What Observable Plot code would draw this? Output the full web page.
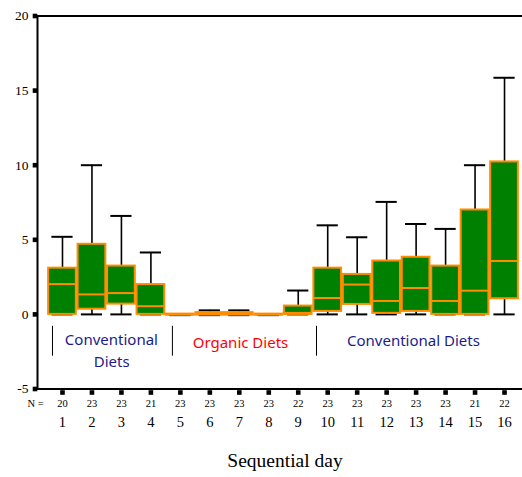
<!DOCTYPE html>
<html>
<head>
<meta charset="utf-8">
<script src="https://cdn.jsdelivr.net/npm/d3@7"></script>
<script src="https://cdn.jsdelivr.net/npm/@observablehq/plot@0.6"></script>
<style>
  html, body { margin: 0; padding: 0; background: #fff; }
  #chart { width: 522px; height: 477px; }
</style>
</head>
<body>
<div id="chart"></div>
<script>
// ---- Data ----
const days    = [1, 2, 3, 4, 5, 6, 7, 8, 9, 10, 11, 12, 13, 14, 15, 16];
const nCounts = [20, 23, 23, 21, 23, 23, 23, 23, 22, 23, 23, 23, 23, 23, 21, 22];
const lowWhisker  = [0, 0, 0, 0, -0.05, -0.05, -0.05, -0.05, 0, 0, 0, 0, 0, 0, 0, 0];
const q1          = [0, 0.35, 0.69, 0, -0.05, -0.05, -0.05, -0.05, 0, 0.2, 0.67, 0.07, 0.2, 0, 0, 1.05];
const median      = [2.03, 1.34, 1.43, 0.55, 0, 0.05, 0.05, 0, 0.1, 1.1, 2.0, 0.9, 1.77, 0.9, 1.59, 3.58];
const q3          = [3.1, 4.7, 3.24, 2.0, 0.02, 0.12, 0.12, 0.02, 0.56, 3.1, 2.68, 3.58, 3.83, 3.24, 7.0, 10.22];
const highWhisker = [5.2, 10.0, 6.6, 4.15, 0.02, 0.27, 0.27, 0.02, 1.6, 5.97, 5.17, 7.54, 6.06, 5.73, 10.0, 15.86];

const yTicks = [-5, 0, 5, 10, 15, 20];

// annotation texts
const annoTexts  = ["Conventional", "Diets", "Organic Diets", "Conventional Diets"];
const annoX      = [2.66, 2.67, 7.04, 12.91];
const annoY      = [-1.76, -3.2, -1.93, -1.8];
const annoColors = ["#1c1c88", "#1c1c88", "#ff0000", "#1c1c88"];
const sepX       = [0.66, 4.73, 9.62];

// ---- Build tables ----
const boxes = days.map((d, i) => ({
  day: d, n: nCounts[i], lo: lowWhisker[i], q1: q1[i], med: median[i], q3: q3[i], hi: highWhisker[i]
}));
const annos = annoTexts.map((t, i) => ({text: t, x: annoX[i], y: annoY[i], color: annoColors[i]}));

const xMin = 0.152, xMax = 16.61;
const halfBox = 0.47, halfCap = 0.36;
const GREEN = "#008000", ORANGE = "#ff8c00";
const serif = "'Liberation Serif', 'Times New Roman', serif";
const handFont = "'Noto Sans', sans-serif";

const chart = Plot.plot({
  width: 522,
  height: 477,
  marginLeft: 37,
  marginRight: 0,
  marginTop: 15.5,
  marginBottom: 88.5,
  x: {domain: [xMin, xMax], axis: null},
  y: {domain: [-5, 20], axis: null},
  style: {background: "#fff"},
  marks: [
    // frame lines: top, bottom, left
    Plot.ruleY([20, -5], {stroke: "#000", strokeWidth: 2}),
    Plot.ruleX([xMin], {y1: -5, y2: 20, stroke: "#000", strokeWidth: 2}),

    // y ticks (small squares) and labels
    Plot.dot(yTicks, {x: () => xMin, y: d => d, symbol: "square", r: 2.6, fill: "#000", dx: -2.5}),
    Plot.text(yTicks, {x: () => xMin, y: d => d, text: d => String(d), dx: -9, textAnchor: "end",
      fontFamily: serif, fontSize: 13.5, fill: "#000"}),

    // x ticks (small squares below axis)
    Plot.dot(days, {x: d => d, y: () => -5, symbol: "square", r: 2.6, fill: "#000", dy: 3.5}),
    // N counts
    Plot.text(["N ="], {x: () => xMin, y: () => -5, dx: -2, dy: 15, fontFamily: serif, fontSize: 10.5, fill: "#000"}),
    Plot.text(boxes, {x: "day", y: () => -5, dy: 15, text: d => String(d.n), fontFamily: serif, fontSize: 10.5, fill: "#000"}),
    // day labels
    Plot.text(boxes, {x: "day", y: () => -5, dy: 33, text: d => String(d.day), fontFamily: serif, fontSize: 14.5, fill: "#000"}),
    // axis title
    Plot.text(["Sequential day"], {frameAnchor: "bottom", dx: 5, dy: 78, fontFamily: serif, fontSize: 19.5, fill: "#000"}),

    // whiskers
    Plot.ruleX(boxes, {x: "day", y1: "q3", y2: "hi", stroke: "#000", strokeWidth: 1.6}),
    Plot.ruleX(boxes, {x: "day", y1: "lo", y2: "q1", stroke: "#000", strokeWidth: 1.6}),
    Plot.ruleY(boxes, {y: "hi", x1: d => d.day - halfCap, x2: d => d.day + halfCap, stroke: "#000", strokeWidth: 2}),
    Plot.ruleY(boxes, {y: "lo", x1: d => d.day - halfCap, x2: d => d.day + halfCap, stroke: "#000", strokeWidth: 2}),

    // boxes
    Plot.rect(boxes, {x1: d => d.day - halfBox, x2: d => d.day + halfBox, y1: "q1", y2: "q3",
      fill: GREEN, stroke: ORANGE, strokeWidth: 2}),
    // medians
    Plot.ruleY(boxes, {y: "med", x1: d => d.day - halfBox, x2: d => d.day + halfBox, stroke: ORANGE, strokeWidth: 2}),

    // annotation separators and texts
    Plot.ruleX(sepX, {x: d => d, y1: -0.8, y2: -2.8, stroke: "#000", strokeWidth: 1}),
    Plot.text(annos, {x: "x", y: "y", text: "text", fill: "color", fontFamily: handFont, fontSize: 15})
  ]
});

document.getElementById("chart").appendChild(chart);
</script>
</body>
</html>
